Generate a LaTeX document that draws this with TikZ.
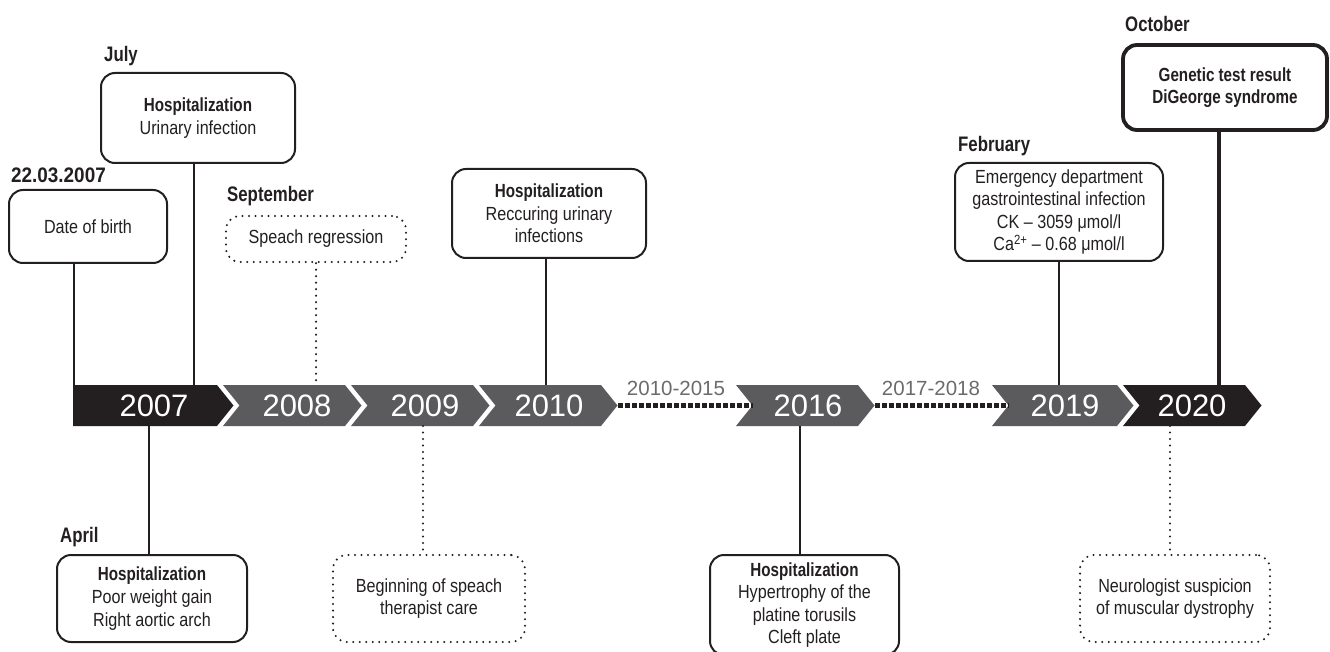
\documentclass[tikz,border=0pt]{standalone}
\usepackage{fontspec}
\setmainfont{Liberation Sans}
\newfontfamily\condf{Liberation Sans}[FakeStretch=0.85]
\newfontfamily\condbf{Liberation Sans}[FakeStretch=0.8]
\newfontfamily\datebf{Liberation Sans}[FakeStretch=0.9]
\newcommand\boldcond[1]{{\condbf\bfseries #1}}
\definecolor{ink}{HTML}{231F20}
\definecolor{bargray}{HTML}{5B5B5D}
\definecolor{rangegray}{HTML}{6B6B6D}
\newcommand\chevron[3]{\fill[#3] (#1,385) -- (#2,385) -- ++(16.5,20.5) -- (#2,426) -- (#1,426) -- ++(16.5,-20.5) -- cycle;}
\tikzset{
  box/.style={draw=ink, line width=2pt, rounded corners=14pt, align=center, inner sep=0pt,
    text=ink, font=\condf\fontsize{19}{22.6}\selectfont},
  thickbox/.style={box, line width=3.8pt},
  dotbox/.style={box, line width=2.3pt, line cap=round, dash pattern=on 0pt off 6.5pt},
  conn/.style={draw=ink, line width=2pt},
  thickconn/.style={draw=ink, line width=3.8pt},
  dotconn/.style={draw=ink, line width=2.3pt, line cap=round, dash pattern=on 0pt off 6.5pt},
  mlabel/.style={anchor=base west, inner sep=0pt, text=ink, font=\condbf\bfseries\fontsize{21}{25}\selectfont},
  yr/.style={inner sep=0pt, text=white, font=\fontsize{31}{36}\selectfont},
  rng/.style={inner sep=0pt, text=rangegray, font=\fontsize{20.5}{24}\selectfont},
  rangeline/.style={draw=ink, line width=4.5pt, dash pattern=on 4.5pt off 2.5pt}
}
\begin{document}
\begin{tikzpicture}[x=1pt,y=-1pt]
\useasboundingbox (0,0) rectangle (1330,652);

% timeline bar
\fill[ink] (73,385) -- (217,385) -- (233.5,405.5) -- (217,426) -- (73,426) -- cycle;
\chevron{223}{345}{bargray}
\chevron{351}{473}{bargray}
\chevron{479}{601}{bargray}
\chevron{736}{858}{bargray}
\chevron{992}{1117}{bargray}
\chevron{1123}{1245}{ink}

\node[yr] (y2007) at (154,405.5) {2007};
\node[yr] (y2008) at (297,405.5) {2008};
\node[yr] (y2009) at (425,405.5) {2009};
\node[yr] (y2010) at (549,405.5) {2010};
\node[yr] (y2016) at (808,405.5) {2016};
\node[yr] (y2019) at (1065,405.5) {2019};
\node[yr] (y2020) at (1192,405.5) {2020};

% dotted ranges
\coordinate (p2010) at (618,405.5);
\coordinate (n2016) at (752.5,405.5);
\coordinate (p2016) at (875,405.5);
\coordinate (n2019) at (1008.5,405.5);
\draw[rangeline] (p2010) -- (n2016);
\draw[rangeline] (p2016) -- (n2019);
\node[rng] (r1) at (676,388.5) {2010-2015};
\node[rng] (r2) at (931,388.5) {2017-2018};

% attachment points on bar
\coordinate (aDob) at (74,385);
\coordinate (aJul) at (194,385);
\coordinate (aSep) at (316,385);
\coordinate (aRec) at (546,385);
\coordinate (aFeb) at (1059,385);
\coordinate (aOct) at (1219,385);
\coordinate (aApr) at (149,426);
\coordinate (aSpc) at (423,426);
\coordinate (aH16) at (800,426);
\coordinate (aNeu) at (1170,426);

% top events
\node[mlabel, font=\datebf\bfseries\fontsize{21}{25}\selectfont] (l1) at (11,183) {22.03.2007};
\node[box, minimum width=158, minimum height=73] (dob) at (88,226.5) {Date of birth};

\node[mlabel] (l2) at (104,62) {July};
\node[box, minimum width=194, minimum height=90] (jul) at (198,118) {\boldcond{Hospitalization}\\Urinary infection};

\node[mlabel] (l3) at (227,202) {September};
\node[dotbox, minimum width=180, minimum height=46] (sep) at (316,239) {Speach regression};

\node[box, minimum width=194, minimum height=89] (rec) at (549,213.5) {\boldcond{Hospitalization}\\Reccuring urinary\\infections};

\node[mlabel] (l4) at (958,152) {February};
\node[box, minimum width=208, minimum height=98] (feb) at (1059,212) {Emergency department\\gastrointestinal infection\\CK – 3059 μmol/l\\Ca\textsuperscript{2+} – 0.68 μmol/l};

\node[mlabel] (l5) at (1125,32) {October};
\node[thickbox, minimum width=204, minimum height=85] (oct) at (1225,87.5) {\boldcond{Genetic test result}\\\boldcond{DiGeorge syndrome}};

% bottom events
\node[mlabel] (l6) at (60,542) {April};
\node[box, minimum width=190, minimum height=87] (apr) at (152,598.5) {\boldcond{Hospitalization}\\Poor weight gain\\Right aortic arch};

\node[dotbox, minimum width=192, minimum height=87] (spc) at (429,598.5) {Beginning of speach\\therapist care};

\node[box, minimum width=189, minimum height=100] (h16) at (804.5,605) {\boldcond{Hospitalization}\\Hypertrophy of the\\platine torusils\\Cleft plate};

\node[dotbox, minimum width=190, minimum height=87] (neu) at (1175,598.5) {Neurologist suspicion\\of muscular dystrophy};

% connectors
\draw[conn] (aDob |- dob.south) -- (aDob);
\draw[conn] (aJul |- jul.south) -- (aJul);
\draw[dotconn] (aSep |- sep.south) -- (aSep);
\draw[conn] (aRec |- rec.south) -- (aRec);
\draw[conn] (aFeb |- feb.south) -- (aFeb);
\draw[thickconn] (aOct |- oct.south) -- (aOct);
\draw[conn] (aApr) -- (aApr |- apr.north);
\draw[dotconn] (aSpc) -- (aSpc |- spc.north);
\draw[conn] (aH16) -- (aH16 |- h16.north);
\draw[dotconn] (aNeu) -- (aNeu |- neu.north);
\end{tikzpicture}
\end{document}
